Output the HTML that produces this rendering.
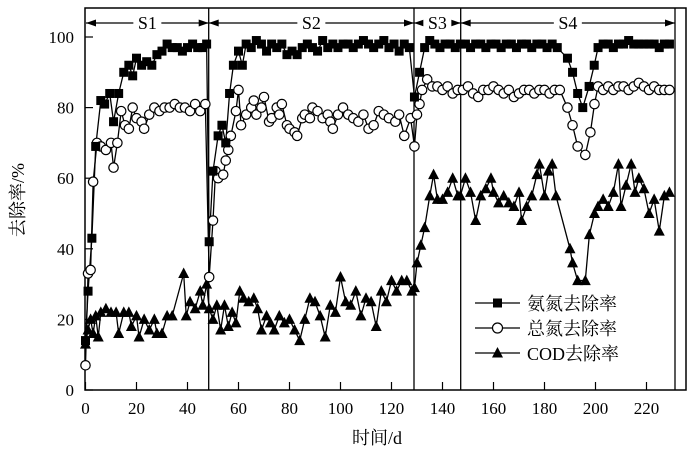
<!DOCTYPE html>
<html><head><meta charset="utf-8"><style>
html,body{margin:0;padding:0;background:#fff;}
svg{display:block;}
text{font-family:"Liberation Serif","Noto Serif CJK SC",serif;fill:#000;}
</style></head><body>
<svg id="s" width="700" height="454" xmlns="http://www.w3.org/2000/svg">
<rect x="85" y="8" width="601" height="382" fill="none" stroke="#000" stroke-width="1.5"/>
<g id="g"></g>
<text x="377" y="444" font-size="18" text-anchor="middle" font-family="Noto Serif CJK SC, serif">时间/d</text>
<text transform="translate(24,200) rotate(-90)" font-size="18" text-anchor="middle" font-family="Noto Serif CJK SC, serif">去除率/%</text>
<g font-size="18">
<line x1="475" y1="303" x2="520" y2="303" stroke="#000" stroke-width="1.3"/><rect x="493" y="298.5" width="9" height="9" fill="#000"/>
<text x="527" y="310" font-family="Noto Serif CJK SC, serif">氨氮去除率</text>
<line x1="475" y1="328" x2="520" y2="328" stroke="#000" stroke-width="1.3"/><circle cx="497.5" cy="328" r="5" fill="#fff" stroke="#000" stroke-width="1.2"/>
<text x="527" y="335" font-family="Noto Serif CJK SC, serif">总氮去除率</text>
<line x1="475" y1="353" x2="520" y2="353" stroke="#000" stroke-width="1.3"/><polygon points="497.5,347 503,357.5 492,357.5" fill="#000"/>
<text x="527" y="360">COD<tspan font-family="Noto Serif CJK SC, serif">去除率</tspan></text>
</g>
</svg>
<script>
const X=d=>85.5+d*2.55, Y=v=>390-v*3.53;
const g=document.getElementById('g');let h='';
// axes ticks
for(let v=0;v<=100;v+=20){h+=`<line x1="85" y1="${Y(v)}" x2="93" y2="${Y(v)}" stroke="#000" stroke-width="1.2"/><text x="74" y="${Y(v)+6}" font-size="17" text-anchor="end">${v}</text>`;}
for(let d=0;d<=220;d+=20){h+=`<line x1="${X(d)}" y1="390" x2="${X(d)}" y2="382" stroke="#000" stroke-width="1.2"/><text x="${X(d)}" y="414" font-size="17" text-anchor="middle">${d}</text>`;}
// stage lines
[208.7,414,460.7,675].forEach(x=>h+=`<line x1="${x}" y1="8" x2="${x}" y2="390" stroke="#000" stroke-width="1.3"/>`);
function arr(a,b,lab){const y=23,m=(a+b)/2;h+=`<line x1="${a}" y1="${y}" x2="${b}" y2="${y}" stroke="#000" stroke-width="1.2"/>
<polygon points="${a},${y} ${a+10},${y-3.5} ${a+10},${y+3.5}" fill="#000"/><polygon points="${b},${y} ${b-10},${y-3.5} ${b-10},${y+3.5}" fill="#000"/>
<rect x="${m-14}" y="${y-10}" width="28" height="20" fill="#fff"/><text x="${m}" y="${y+6}" font-size="18" text-anchor="middle">${lab}</text>`;}
arr(86,208.7,'S1');arr(208.7,414,'S2');arr(414,460.7,'S3');arr(460.7,675,'S4');
function P(s){return s.trim().split(/\s*;\s*/).map(p=>p.split(',').map(Number));}
const nh=P(`0,14;1,28;2.5,43;4,69;6,82;7.5,81;9.5,84;11,76;13,84;15,90;17,92;18.5,89;20,94;22,92;24,93;26,92;28,95;30,96;32,98;34,97;36,97;38,96;40,97;42,98;44,97;46,97;47.5,98;
48.5,42;50,62;52,72;53.5,75;55,70;56.5,84;58,92;60,96;61.5,92;63,98;65,97;67,99;69,98;71,96;73,98;75,97;77,98;79,95;81,96;83,95;85,97;87,98;89,97;91,96;93,99;95,97;97,98;99,97;101,98;103,98;105,97;107,98;109,99;111,98;113,97;115,98;117,99;119,97;121,98;123,96;125,98;127,97;129,83;
131,90;133,97;135,99;137,98;139,97;141,98;143,98;145,97;147,98;149,98;151,97;153,98;155,98;157,97;159,98;161,98;163,97;165,98;167,98;169,97;171,98;173,98;175,97;177,98;179,98;181,97;183,98;185,97;
189,94;191,90;193,84;195,80;197.5,86;199.5,92;201,97;203,98;205,98;207,97;209,98;211,98;213,99;215,98;217,98;219,98;221,98;223,98;225,97;227,98;229,98`);
const tn=P(`0,7;1,33;2,34;3,59;4.5,70;6,69;8,68;10,70;11,63;12.5,70;14,79;15.5,75;17,74;18.5,80;20,77;22,76;23,74;25,78;27,80;29,79;31,80;33,80;35,81;37,80;39,80;41,79;43,81;45,79;47,81;
48.5,32;50,48;51,62;52,60;54,61;55,65;56,68;57,72;59,79;60,85;61,75;63,78;65,80;66,82;67,78;69,80;70,83;72,76;73,77;75,80;76,78;77,81;79,75;80,74;82,73;83,72;85,77;86,78;88,77;89,80;91,79;93,77;95,78;96,76;97,74;99,78;101,80;103,78;105,77;107,76;109,78;111,74;113,75;115,79;117,78;119,77;121.5,76;123,78;125,72;127.5,77;129,69;
130,78;131,81;132,85;134,88;136,86;138,86;140,85;142,86;144,84;146,85;148,85;150,86;152,84;154,83;156,85;158,85;160,86;162,85;164,84;166,85;168,83;170,84;172,85;174,85;176,84;178,85;180,85;182,84;184,85;186,85;
189,80;191,75;193,69;196,66.6;198,73;199.6,81;201,86;203,85;205,86;207,85;209,86;211,86;213,85;215,86;217,87;219,86;221,85;223,86;225,85;227,85;229,85`);
const cod=P(`0,13;1,17;2,20;3,16;4,21;5,15;6,22;8,23;10,22;12,22;13,16;15,22;17,22;18,18;20,21;21,15;23,20;25,17;27,20;28,16;30,16;32,21;34,21;38.5,33;39.5,21;41,25;43,23;45,28;46,24;47.5,30;
48.5,23;50,20;51.5,24;53,17;54.5,24;56,18;57.5,22;59,19;60.5,28;62,26;64,25;66,26;67.5,23;69,17;71,21;72.5,19;74,17;76,21;78,19;80,20;82,17;84,14;86,20;88,26;90,25;92,21;94,15;96,24;98,22;100,32;102,25;104,24;106,28;108,21;110,26;112,25;114,18;116,28;118,25;120,31;122,28;124,31;126,31;128,28;129,29;
130,36;131.5,41;133,46;135,55;136.5,61;138,54;140,54;142,56;144,60;146,55;147,55;149,60;151,56;153,48;155,55;157,57;159,60;160,56;162,53;164,55;166,53;168,52;170,56;171,48;173,52;175,55;177,61;178,64;180,55;181.5,62;183,64;184.5,55;
190,40;191,36;193,31;196,31;197.6,44;199.6,50;201,52;203,54;205,52;207,56;209,64;210,52;212,58;214,64;215.5,56;217,60;219,57;221,50;223,54;225,45;227,55;229,56`);
function line(d){return `<polyline fill="none" stroke="#000" stroke-width="1.3" points="${d.map(p=>X(p[0])+','+Y(p[1])).join(' ')}"/>`;}
h+=line(cod)+line(tn)+line(nh);
cod.forEach(p=>{const x=X(p[0]),y=Y(p[1]);h+=`<polygon points="${x},${y-6} ${x+5.5},${y+4.5} ${x-5.5},${y+4.5}" fill="#000"/>`;});
tn.forEach(p=>h+=`<circle cx="${X(p[0])}" cy="${Y(p[1])}" r="4.7" fill="#fff" stroke="#000" stroke-width="1.2"/>`);
nh.forEach(p=>h+=`<rect x="${X(p[0])-4.5}" y="${Y(p[1])-4.5}" width="9" height="9" fill="#000"/>`);
g.innerHTML=h;
</script>
</body></html>
